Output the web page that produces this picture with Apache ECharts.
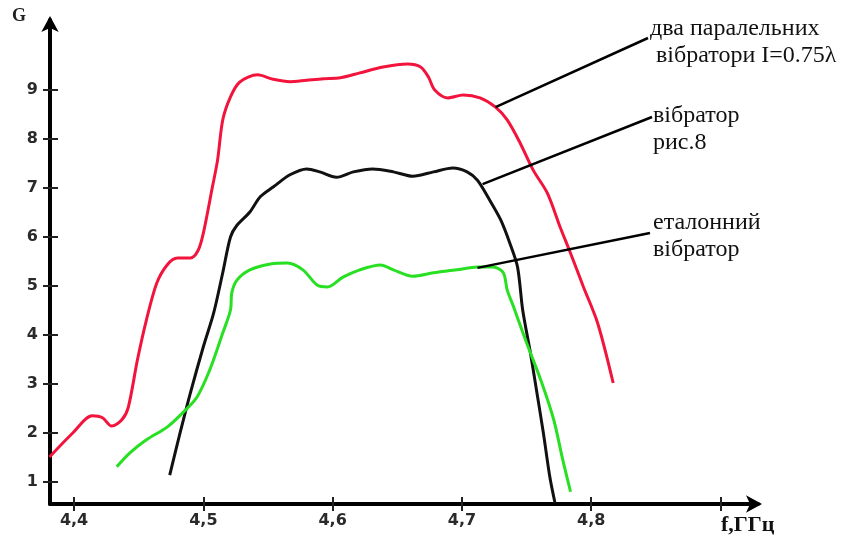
<!DOCTYPE html>
<html>
<head>
<meta charset="utf-8">
<script src="https://cdn.jsdelivr.net/npm/echarts@6/dist/echarts.min.js"></script>
<style>html,body{margin:0;padding:0;background:#fff}#c{width:848px;height:542px}</style>
</head>
<body>
<div id="c"></div>
<script>
// ---- data ----
const xTicks = [4.4, 4.5, 4.6, 4.7, 4.8, 4.9];
const xTickLabels = [4.4, 4.5, 4.6, 4.7, 4.8];
const yTicks = [1, 2, 3, 4, 5, 6, 7, 8, 9];
const xAxisName = 'f,ГГц';
const yAxisName = 'G';

const redX = [4.381,4.399,4.414,4.422,4.429,4.437,4.442,4.449,4.456,4.464,4.472,4.480,4.490,4.496,4.500,4.507,4.511,4.515,4.521,4.528,4.542,4.554,4.567,4.580,4.593,4.606,4.621,4.639,4.658,4.668,4.674,4.679,4.689,4.701,4.714,4.726,4.735,4.745,4.755,4.766,4.776,4.784,4.794,4.805,4.817];
const redY = [1.51,2.0,2.35,2.31,2.14,2.27,2.53,3.49,4.31,5.06,5.43,5.57,5.57,5.73,6.08,7.02,7.57,8.39,8.86,9.16,9.31,9.22,9.17,9.2,9.23,9.25,9.35,9.47,9.53,9.47,9.27,9.0,8.84,8.9,8.84,8.65,8.39,7.92,7.37,6.90,6.2,5.67,4.98,4.24,3.02];

const blackX = [4.474,4.482,4.490,4.500,4.508,4.515,4.521,4.526,4.536,4.544,4.554,4.567,4.580,4.590,4.603,4.616,4.631,4.647,4.662,4.678,4.693,4.704,4.712,4.720,4.730,4.737,4.743,4.747,4.753,4.758,4.763,4.768,4.772];
const blackY = [1.14,2.0,2.82,3.76,4.45,5.27,6.0,6.24,6.51,6.82,7.02,7.27,7.39,7.33,7.22,7.33,7.39,7.33,7.24,7.33,7.41,7.33,7.16,6.82,6.35,5.88,5.39,4.51,3.63,2.82,2.0,1.1,0.57];

const greenX = [4.433,4.443,4.456,4.472,4.484,4.495,4.505,4.515,4.521,4.522,4.526,4.536,4.552,4.565,4.577,4.588,4.596,4.608,4.621,4.637,4.647,4.662,4.678,4.696,4.712,4.724,4.732,4.735,4.740,4.750,4.761,4.771,4.778,4.784];
const greenY = [1.31,1.59,1.86,2.12,2.41,2.73,3.29,4.04,4.51,4.86,5.12,5.33,5.45,5.47,5.33,5.02,4.98,5.18,5.33,5.43,5.33,5.2,5.27,5.33,5.39,5.39,5.27,4.92,4.57,3.84,3.08,2.27,1.45,0.8];

const seriesNames = ['два паралельних вібратори I=0.75λ', 'вібратор рис.8', 'еталонний вібратор'];
const annotationLines = [
  ['два паралельних', ' вібратори I=0.75λ'],
  ['вібратор', 'рис.8'],
  ['еталонний', 'вібратор']
];
// anchor points on curves (data coords) for leader lines
const anchorX = [4.726, 4.716, 4.712];
const anchorY = [8.65, 7.08, 5.37];

const zip = (a, b) => a.map((v, i) => [v, b[i]]);

const chart = echarts.init(document.getElementById('c'), null, {renderer: 'canvas'});
const XMIN = 4.3814, XMAX = 4.929, YMIN = 0.55, YMAX = 10.43;
const labelFont = {fontFamily: 'DejaVu Sans', fontWeight: 'bold', fontSize: 16, color: '#2a2a2a'};

const option = {
  backgroundColor: '#fff',
  animation: false,
  grid: {left: 50, right: 90, top: 20, bottom: 38},
  xAxis: [{
    type: 'value', min: XMIN, max: XMAX,
    axisLine: {show: true, lineStyle: {color: '#000', width: 4}, symbol: ['none', 'arrow'], symbolSize: [13, 16], symbolOffset: [0, 4]},
    axisTick: {show: true, length: 7, lineStyle: {color: '#222', width: 2}, customValues: xTicks},
    axisLabel: {show: true, margin: 9, ...labelFont, customValues: xTickLabels, formatter: v => v.toFixed(1).replace('.', ',')},
    splitLine: {show: false}
  }, {
    type: 'value', min: XMIN, max: XMAX, position: 'bottom',
    axisLine: {show: false},
    axisTick: {show: true, inside: true, length: 7, lineStyle: {color: '#222', width: 2}, customValues: xTicks},
    axisLabel: {show: false},
    splitLine: {show: false}
  }],
  yAxis: [{
    type: 'value', min: YMIN, max: YMAX,
    axisLine: {show: true, lineStyle: {color: '#000', width: 4}, symbol: ['none', 'arrow'], symbolSize: [13, 16], symbolOffset: [0, 4]},
    axisTick: {show: true, length: 7, lineStyle: {color: '#222', width: 2}, customValues: yTicks},
    axisLabel: {show: true, margin: 12, ...labelFont, customValues: yTicks},
    splitLine: {show: false}
  }, {
    type: 'value', min: YMIN, max: YMAX, position: 'left',
    axisLine: {show: false},
    axisTick: {show: true, inside: true, length: 8, lineStyle: {color: '#222', width: 2}, customValues: yTicks},
    axisLabel: {show: false},
    splitLine: {show: false}
  }],
  series: [
    {name: seriesNames[0], type: 'line', data: zip(redX, redY), showSymbol: false, smooth: 0.3, lineStyle: {color: '#f2143c', width: 3}, z: 3},
    {name: seriesNames[1], type: 'line', data: zip(blackX, blackY), showSymbol: false, smooth: 0.3, lineStyle: {color: '#111', width: 3}, z: 3},
    {name: seriesNames[2], type: 'line', data: zip(greenX, greenY), showSymbol: false, smooth: 0.3, lineStyle: {color: '#27e021', width: 3}, z: 3}
  ]
};
chart.setOption(option);

// annotations
const textLeft = [650, 653, 653];
const textTop = [15, 102, 209];
const lineEnds = [[648, 38], [652, 117], [650, 233]];
const graphics = [];
for (let i = 0; i < 3; i++) {
  const p = chart.convertToPixel({gridIndex: 0}, [anchorX[i], anchorY[i]]);
  graphics.push({type: 'line', shape: {x1: p[0], y1: p[1], x2: lineEnds[i][0], y2: lineEnds[i][1]}, style: {stroke: '#000', lineWidth: 2.5}, z: 10});
  graphics.push({type: 'text', left: textLeft[i], top: textTop[i], style: {text: annotationLines[i].join('\n'), font: '24px "Liberation Serif"', fill: '#111', lineHeight: 27}, z: 10});
}
graphics.push({type: 'text', left: 12, top: 7, style: {text: yAxisName, font: 'bold 18px "Liberation Serif"', fill: '#222'}});
graphics.push({type: 'text', left: 721, top: 514, style: {text: xAxisName, font: 'bold 22px "Liberation Serif"', fill: '#111'}});
chart.setOption({graphic: graphics});
</script>
</body>
</html>
